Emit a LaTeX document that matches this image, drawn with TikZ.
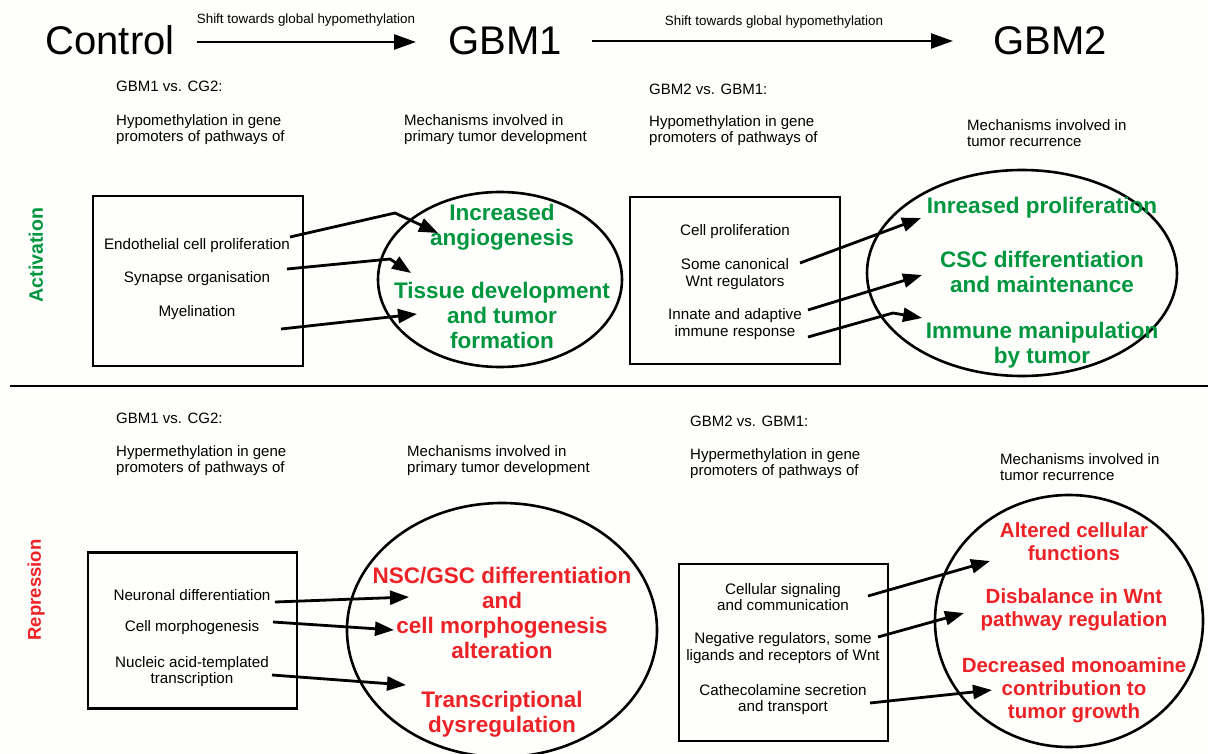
\documentclass[tikz,border=0pt]{standalone}
\usepackage{fontspec}
\setmainfont{Liberation Sans}
\usetikzlibrary{arrows.meta,shapes.geometric}
\definecolor{actgreen}{RGB}{0,150,64}
\definecolor{repred}{RGB}{236,34,39}
\definecolor{paper}{RGB}{254,254,250}
\begin{document}
\begin{tikzpicture}[x=1pt,y=-1pt,
  title/.style={font=\fontsize{40}{44}\selectfont, anchor=base, inner sep=0pt},
  shiftlbl/.style={font=\fontsize{13.4}{15}\selectfont, inner sep=0pt},
  hdr/.style={font=\fontsize{15}{16}\selectfont, align=left, anchor=west, inner sep=0pt},
  item/.style={font=\fontsize{15.2}{16.5}\selectfont, align=center, inner sep=0pt},
  gtxt/.style={font=\bfseries\fontsize{22.5}{25}\selectfont, text=actgreen, align=center, inner sep=0pt},
  rtxt/.style={font=\bfseries\fontsize{22.5}{25}\selectfont, text=repred, align=center, inner sep=0pt},
  rtxtsm/.style={font=\bfseries\fontsize{20.5}{23}\selectfont, text=repred, align=center, inner sep=0pt},
  sidelbl/.style={font=\bfseries\fontsize{19.5}{22}\selectfont, rotate=90, inner sep=0pt},
  stepbox/.style={draw, line width=2.4pt, inner sep=0pt},
  oval/.style={draw, ellipse, line width=2.6pt, inner sep=0pt},
  arr/.style={line width=2.8pt, -{Triangle[length=19pt,width=14pt]}},
  toparr/.style={line width=2.4pt, -{Triangle[length=22pt,width=15pt]}},
]
\fill[paper] (0,0) rectangle (1208,754);
\useasboundingbox (0,0) rectangle (1208,754);

% titles
\node[title] (ctrl) at (110,55) {Control};
\node[title] (gbm1) at (505,55) {GBM1};
\node[title] (gbm2) at (1050,55) {GBM2};
\coordinate (a1s) at (197,42);
\coordinate (a1e) at (416,42);
\coordinate (a2s) at (592,41);
\coordinate (a2e) at (953,41);
\draw[toparr] (a1s) -- (a1e);
\draw[toparr] (a2s) -- (a2e);
\node[shiftlbl] (sh1) at (306,20) {Shift towards global hypomethylation};
\node[shiftlbl] (sh2) at (774,22) {Shift towards global hypomethylation};

% divider
\coordinate (dl) at (10,386);
\coordinate (dr) at (1208,386);
\draw[line width=2.2pt] (dl) -- (dr);

% side labels
\node[sidelbl, text=actgreen] (act) at (36,255) {Activation};
\node[sidelbl, text=repred, font=\bfseries\fontsize{18.5}{22}\selectfont] (rep) at (36,590) {Repression};

% ---- top headers
\node[hdr] (h1) at (116,86) {GBM1 vs. CG2:};
\node[hdr] (h2) at (116,130) {Hypomethylation in gene\\promoters of pathways of};
\node[hdr] (h3) at (404,130) {Mechanisms involved in\\primary tumor development};
\node[hdr] (h4) at (649,89) {GBM2 vs. GBM1:};
\node[hdr] (h5) at (649,131) {Hypomethylation in gene\\promoters of pathways of};
\node[hdr] (h6) at (967,133) {Mechanisms involved in\\tumor recurrence};

% ---- bottom headers
\node[hdr] (h7) at (116,418) {GBM1 vs. CG2:};
\node[hdr] (h8) at (116,461) {Hypermethylation in gene\\promoters of pathways of};
\node[hdr] (h9) at (407,461) {Mechanisms involved in\\primary tumor development};
\node[hdr] (h10) at (690,421) {GBM2 vs. GBM1:};
\node[hdr] (h11) at (690,464) {Hypermethylation in gene\\promoters of pathways of};
\node[hdr] (h12) at (1000,467) {Mechanisms involved in\\tumor recurrence};

% ---- boxes
\node[stepbox, minimum width=210pt, minimum height=170pt] (b1) at (198,281) {};
\node[stepbox, minimum width=210pt, minimum height=167pt] (b2) at (735,280.5) {};
\node[stepbox, minimum width=209pt, minimum height=156pt] (b3) at (192.5,630.5) {};
\node[stepbox, minimum width=209pt, minimum height=177pt] (b4) at (783.5,652.5) {};

% ---- ellipses
\node[oval, minimum width=244pt, minimum height=175pt] (e1) at (500,279.5) {};
\node[oval, minimum width=310pt, minimum height=206pt] (e2) at (1022,273) {};
\node[oval, minimum width=310pt, minimum height=254pt] (e3) at (502,630) {};
\node[oval, minimum width=268pt, minimum height=252pt] (e4) at (1069,621) {};

% ---- box items
\node[item] (i11) at (197,246) {Endothelial cell proliferation};
\node[item] (i12) at (197,279) {Synapse organisation};
\node[item] (i13) at (197,313) {Myelination};

\node[item] (i21) at (735,232) {Cell proliferation};
\node[item] (i22) at (735,274) {Some canonical\\Wnt regulators};
\node[item] (i23) at (735,324) {Innate and adaptive\\immune response};

\node[item] (i31) at (192,595) {Neuronal differentiation};
\node[item] (i32) at (192,628) {Cell morphogenesis};
\node[item] (i33) at (192,671.5) {Nucleic acid-templated\\transcription};

\node[item] (i41) at (783,597) {Cellular signaling\\and communication};
\node[item] (i42) at (783,648) {Negative regulators, some\\ligands and receptors of Wnt};
\node[item] (i43) at (783,699.5) {Cathecolamine secretion\\and transport};

% ---- ellipse texts
\node[gtxt] (g11) at (502,227.5) {Increased\\angiogenesis};
\node[gtxt] (g12) at (502,315) {Tissue development\\and tumor\\formation};

\node[gtxt] (g21) at (1042,208) {Inreased proliferation};
\node[gtxt] (g22) at (1042,271.5) {CSC differentiation\\and maintenance};
\node[gtxt] (g23) at (1042,345.5) {Immune manipulation\\by tumor};

\node[rtxt] (r31) at (502,612.5) {NSC/GSC differentiation\\and\\cell morphogenesis\\alteration};
\node[rtxt] (r32) at (502,714.5) {Transcriptional\\dysregulation};

\node[rtxtsm] (r41) at (1074,542) {Altered cellular\\functions};
\node[rtxtsm] (r42) at (1074,610) {Disbalance in Wnt\\pathway regulation};
\node[rtxtsm] (r43) at (1074,690) {Decreased monoamine\\contribution to\\tumor growth};

% ---- connector coordinates
\coordinate (p11s) at (290,237);
\coordinate (p11k) at (395,213);
\coordinate (p11e) at (438,233);
\coordinate (p12s) at (287,269);
\coordinate (p12k) at (390,259);
\coordinate (p12e) at (411,273);
\coordinate (p13s) at (281,329);
\coordinate (p13e) at (417,314);

\coordinate (p21s) at (800,263);
\coordinate (p21e) at (921,218);
\coordinate (p22s) at (808,310);
\coordinate (p22e) at (922,275);
\coordinate (p23s) at (808,337);
\coordinate (p23k) at (893,313);
\coordinate (p23e) at (922,318);

\coordinate (p31s) at (275,602);
\coordinate (p31e) at (409,597);
\coordinate (p32s) at (273,622);
\coordinate (p32e) at (394,630);
\coordinate (p33s) at (272,675);
\coordinate (p33e) at (406,685);

\coordinate (p41s) at (868,596);
\coordinate (p41e) at (990,561);
\coordinate (p42s) at (878,637);
\coordinate (p42e) at (964,613);
\coordinate (p43s) at (870,703);
\coordinate (p43e) at (992,690);

\draw[arr] (p11s) -- (p11k) -- (p11e);
\draw[arr] (p12s) -- (p12k) -- (p12e);
\draw[arr] (p13s) -- (p13e);
\draw[arr] (p21s) -- (p21e);
\draw[arr] (p22s) -- (p22e);
\draw[arr] (p23s) -- (p23k) -- (p23e);
\draw[arr] (p31s) -- (p31e);
\draw[arr] (p32s) -- (p32e);
\draw[arr] (p33s) -- (p33e);
\draw[arr] (p41s) -- (p41e);
\draw[arr] (p42s) -- (p42e);
\draw[arr] (p43s) -- (p43e);
\end{tikzpicture}
\end{document}
